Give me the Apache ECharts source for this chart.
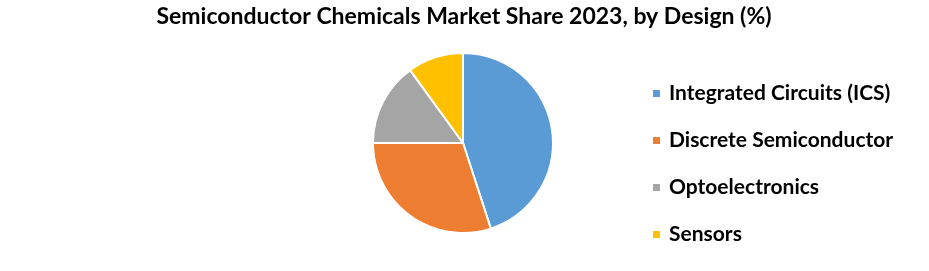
<!DOCTYPE html>
<html><head><meta charset="utf-8">
<script src="https://cdn.jsdelivr.net/npm/echarts@6/dist/echarts.min.js"></script>
<style>html,body{margin:0;padding:0;background:#fff}#c{width:929px;height:271px}</style>
</head><body><div id="c"></div>
<script>
const titleText = 'Semiconductor Chemicals Market Share 2023, by Design (%)';
const categories = ['Integrated Circuits (ICS)', 'Discrete Semiconductor', 'Optoelectronics', 'Sensors'];
const values = [45, 30, 15, 10];
const colors = ['#5B9BD5', '#ED7D31', '#A5A5A5', '#FFC000'];

const chart = echarts.init(document.getElementById('c'), null, {renderer: 'canvas'});
chart.setOption({
  animation: false,
  title: {
    text: titleText, left: 464, top: 5, textAlign: 'center', padding: 0,
    textStyle: {fontFamily: 'Lato', fontWeight: 'bold', fontSize: 23, color: '#000'}
  },
  legend: {
    orient: 'vertical', left: 651, top: 83, icon: 'rect', padding: 0,
    itemWidth: 9, itemHeight: 9, itemGap: 26,
    data: categories,
    textStyle: {fontFamily: 'Lato', fontWeight: 'bold', fontSize: 21, color: '#000', padding: [0,0,0,3]}
  },
  series: [{
    type: 'pie', center: [463, 143], radius: 90, startAngle: 90, clockwise: true,
    label: {show: false}, labelLine: {show: false},
    itemStyle: {borderColor: '#fff', borderWidth: 2},
    emphasis: {disabled: true},
    data: categories.map((n, i) => ({name: n, value: values[i], itemStyle: {color: colors[i]}}))
  }]
});
</script></body></html>
